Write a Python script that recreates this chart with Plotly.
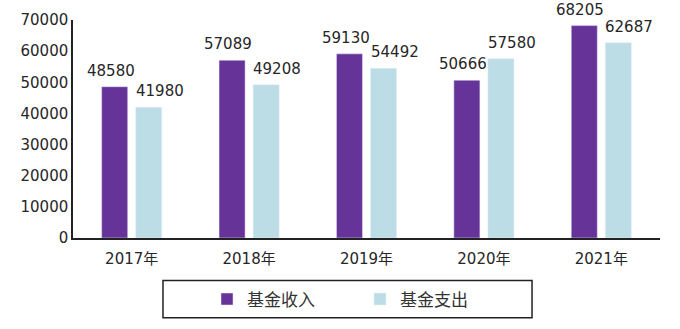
import plotly.graph_objects as go

years = ["2017年", "2018年", "2019年", "2020年", "2021年"]
income = [48580, 57089, 59130, 50666, 68205]
expense = [41980, 49208, 54492, 57580, 62687]
series_names = ["基金收入", "基金支出"]
colors = ["#663399", "#BDDDE6"]

font_family = "DejaVu Sans, Noto Sans CJK SC, sans-serif"
text_color = "#262626"

fig = go.Figure()
fig.add_trace(go.Bar(x=years, y=income, name=series_names[0], marker_color=colors[0]))
fig.add_trace(go.Bar(x=years, y=expense, name=series_names[1], marker_color=colors[1]))

annotations = []
for vals, shift in ((income, -21), (expense, 28)):
    for cat, v in zip(years, vals):
        annotations.append(dict(x=cat, y=v, text=str(v), showarrow=False,
                                xshift=shift, yshift=16, yanchor="middle",
                                font=dict(size=15, color=text_color, family=font_family)))

fig.update_layout(
    width=680, height=329,
    margin=dict(l=73, r=20, t=20, b=89),
    paper_bgcolor="white", plot_bgcolor="white",
    barmode="group", bargap=0.42, bargroupgap=0.235,
    font=dict(family=font_family, size=15, color=text_color),
    annotations=annotations,
    showlegend=True,
    legend=dict(orientation="h", x=0.2283, xanchor="left", y=-0.282, yanchor="middle",
                borderwidth=0, bgcolor="rgba(0,0,0,0)",
                font=dict(size=17, color="#333333", family=font_family),
                entrywidth=108, entrywidthmode="pixels"),
    shapes=[dict(type="rect", xref="paper", yref="paper",
                 x0=0.1533, x1=0.782, y0=-0.366, y1=-0.195,
                 line=dict(color="#222222", width=1.5), fillcolor="rgba(0,0,0,0)",
                 layer="below")],
)
fig.update_xaxes(showline=True, linecolor="#222222", linewidth=1.5, ticks="",
                 tickfont=dict(size=15), ticklabelstandoff=6)
fig.update_yaxes(range=[0, 70000], dtick=10000, tickformat="d", showline=True,
                 linecolor="#222222", linewidth=1.5, showgrid=False, zeroline=False,
                 ticks="", tickfont=dict(size=15))

fig.write_html("out.html")
